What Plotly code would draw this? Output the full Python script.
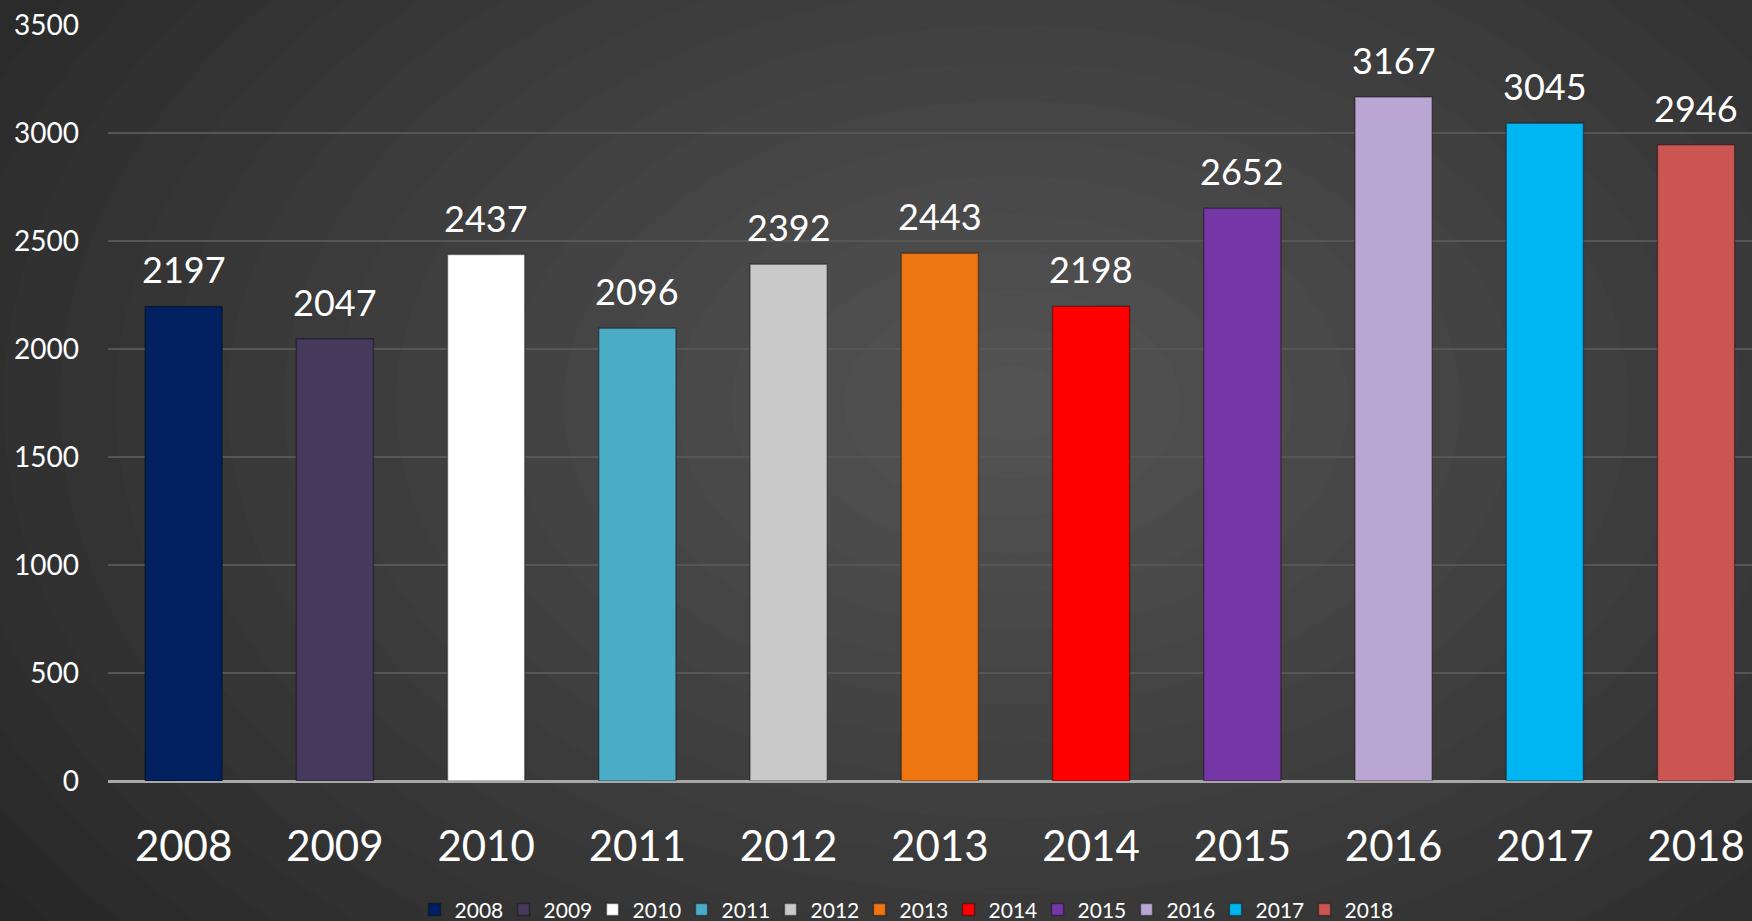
import plotly.graph_objects as go

years = ["2008", "2009", "2010", "2011", "2012", "2013", "2014", "2015", "2016", "2017", "2018"]
values = [2197, 2047, 2437, 2096, 2392, 2443, 2198, 2652, 3167, 3045, 2946]
colors = ["#002060", "#46395C", "#FFFFFF", "#4BACC6", "#C9C9C9", "#EE7511",
          "#FF0000", "#7536A6", "#B9A6D2", "#00B6F2", "#CB5552"]
y_ticks = [0, 500, 1000, 1500, 2000, 2500, 3000, 3500]

FONT = "Lato"
fig = go.Figure()

for i, (yr, v, c) in enumerate(zip(years, values, colors)):
    fig.add_trace(go.Bar(
        x=[yr], y=[v], name=yr, width=0.51,
        marker=dict(color=c, line=dict(color="rgba(0,0,0,0.35)", width=1.5)),
        hoverinfo="x+y",
    ))
    fig.add_annotation(x=i, y=v, text=str(v), showarrow=False,
                       xref="x", yref="y",
                       yanchor="middle", yshift=37,
                       font=dict(family=FONT, size=36, color="white"))

# radial background glow
shapes = []
n = 22
for k in range(n):
    f = 1 - k / n
    shapes.append(dict(type="circle", xref="paper", yref="paper", layer="below",
                       x0=0.55 - 0.75 * f, x1=0.55 + 0.75 * f,
                       y0=0.5 - 1.1 * f, y1=0.5 + 1.1 * f,
                       fillcolor="rgba(255,255,255,0.01)", line=dict(width=0)))

fig.update_layout(
    width=1752, height=921,
    paper_bgcolor="#272727", plot_bgcolor="rgba(0,0,0,0)",
    margin=dict(l=108, r=0, t=25, b=140, autoexpand=False),
    barmode="overlay",
    shapes=shapes,
    font=dict(family=FONT, color="white"),
    showlegend=True,
    legend=dict(orientation="h", xref="container", yref="container",
                x=0.516, xanchor="center", y=0.012, yanchor="middle",
                font=dict(family=FONT, size=21, color="white"),
                bgcolor="rgba(0,0,0,0)", itemwidth=30, tracegroupgap=0,
                entrywidth=44, entrywidthmode="pixels"),
    xaxis=dict(type="category", categoryorder="array", categoryarray=years,
               range=[-0.5, 10.37], showgrid=False, showline=False, zeroline=False,
               automargin=False,
               ticks="", tickfont=dict(family=FONT, size=42, color="white"),
               ticklabelstandoff=37),
    yaxis=dict(range=[0, 3500], tickvals=y_ticks, ticktext=[str(t) for t in y_ticks],
               automargin=False,
               showgrid=True, gridcolor="#565656", gridwidth=1.5,
               zeroline=True, zerolinecolor="#A8A8A8", zerolinewidth=2.5,
               showline=False, ticks="",
               tickfont=dict(family=FONT, size=28, color="white"),
               ticklabelstandoff=28),
)

fig.write_html("out.html", config={"displayModeBar": False},
               post_script="document.body.style.margin='0';document.body.style.overflow='hidden';document.body.style.background='#272727';")
